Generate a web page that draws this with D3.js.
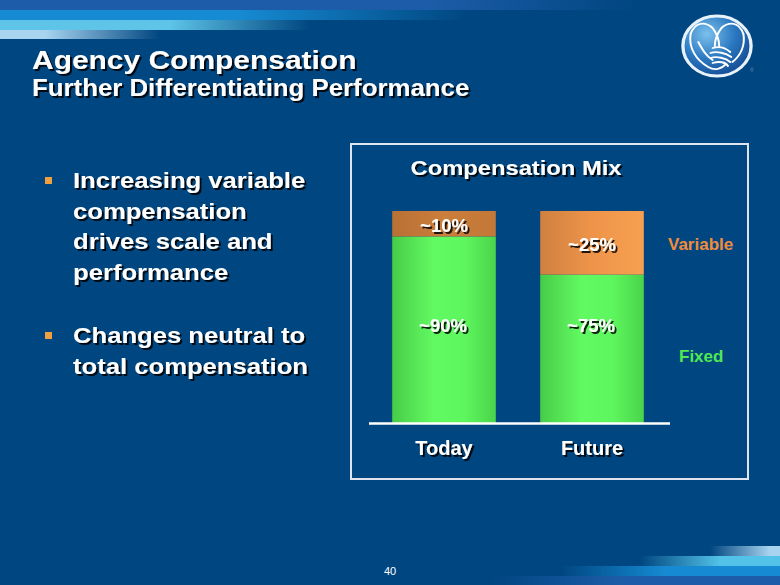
<!DOCTYPE html>
<html>
<head>
<meta charset="utf-8">
<script src="https://cdn.jsdelivr.net/npm/d3@7"></script>
<style>
  html, body { margin: 0; padding: 0; background: #004680; }
  svg { display: block; font-family: "Liberation Sans", Arial, sans-serif; }
</style>
</head>
<body>
<svg id="chart" width="780" height="585"></svg>
<script>
// ---- data ----
const categories = ["Today", "Future"];
const fixedValues = [88, 70];
const variableValues = [12, 30];
const fixedLabels = ["~90%", "~75%"];
const variableLabels = ["~10%", "~25%"];
const seriesNames = ["Variable", "Fixed"];
const chartTitle = "Compensation Mix";
const slideTitle = "Agency Compensation";
const slideSubtitle = "Further Differentiating Performance";
const bullets = [
  ["Increasing variable", "compensation", "drives scale and", "performance"],
  ["Changes neutral to", "total compensation"]
];
const pageNumber = "40";

// ---- setup ----
const svg = d3.select("#chart");
const defs = svg.append("defs");

const shadow = defs.append("filter").attr("id", "shadow")
  .attr("x", "-20%").attr("y", "-20%").attr("width", "140%").attr("height", "160%");
shadow.append("feDropShadow").attr("dx", 2).attr("dy", 2).attr("stdDeviation", 0.6)
  .attr("flood-color", "#000").attr("flood-opacity", 0.85);

// stretch text horizontally by a factor (reference slide glyphs are wider)
function stretch(sel, factor) {
  sel.each(function () {
    const w = this.getComputedTextLength();
    d3.select(this).attr("textLength", w * factor).attr("lengthAdjust", "spacingAndGlyphs");
  });
}

function hGrad(id, stops) {
  const g = defs.append("linearGradient").attr("id", id)
    .attr("x1", "0%").attr("x2", "100%").attr("y1", "0%").attr("y2", "0%");
  stops.forEach(s => g.append("stop").attr("offset", s[0]).attr("stop-color", s[1]).attr("stop-opacity", s[2] ?? 1));
}
function hGradAbs(id, x1, x2, stops) {
  const g = defs.append("linearGradient").attr("id", id).attr("gradientUnits", "userSpaceOnUse")
    .attr("x1", x1).attr("x2", x2).attr("y1", 0).attr("y2", 0);
  stops.forEach(s => g.append("stop").attr("offset", s[0]).attr("stop-color", s[1]).attr("stop-opacity", s[2] ?? 1));
}

// background
svg.append("rect").attr("width", 780).attr("height", 585).attr("fill", "#004680");

// top stripes
const topStripes = [
  { y: 0, h: 10, c: "#1c5ca8", a: 430, b: 640 },
  { y: 10, h: 10, c: "#168ad2", a: 240, b: 470 },
  { y: 20, h: 10, c: "#5ec4e8", a: 170, b: 310 },
  { y: 30, h: 9, c: "#a8d4f0", a: 45, b: 160 }
];
topStripes.forEach((s, i) => {
  hGradAbs("ts" + i, s.a, s.b, [["0%", s.c, 1], ["100%", s.c, 0]]);
  svg.append("rect").attr("x", 0).attr("y", s.y).attr("width", s.b).attr("height", s.h)
    .attr("fill", `url(#ts${i})`);
});
// bottom stripes
const botStripes = [
  { y: 546, h: 10, c: "#a8d4f0", a: 710, b: 770 },
  { y: 556, h: 10, c: "#52c2e8", a: 640, b: 720 },
  { y: 566, h: 10, c: "#168ad2", a: 560, b: 665 },
  { y: 576, h: 9, c: "#1c5ca8", a: 490, b: 620 }
];
botStripes.forEach((s, i) => {
  hGradAbs("bs" + i, s.a, s.b, [["0%", s.c, 0], ["100%", s.c, 1]]);
  svg.append("rect").attr("x", s.a).attr("y", s.y).attr("width", 780 - s.a).attr("height", s.h)
    .attr("fill", `url(#bs${i})`);
});

// logo
const logoG = defs.append("radialGradient").attr("id", "logoFill")
  .attr("cx", "35%").attr("cy", "30%").attr("r", "75%");
logoG.append("stop").attr("offset", "0%").attr("stop-color", "#7cc0ec");
logoG.append("stop").attr("offset", "55%").attr("stop-color", "#2a78c0");
logoG.append("stop").attr("offset", "100%").attr("stop-color", "#144c94");
const logo = svg.append("g").attr("transform", "translate(717,46) scale(1.1,1)");
logo.append("ellipse").attr("rx", 31).attr("ry", 30).attr("fill", "url(#logoFill)")
  .attr("stroke", "#e8f2fa").attr("stroke-width", 3);
const handPaths = [
  "M-24,-12 C-20,-24 -11,-25 -4,-18 C0,-12 2,-6 2,0",
  "M24,-12 C20,-24 11,-25 4,-18 C0,-12 -2,-6 -2,0",
  "M-24,-12 C-26,2 -19,14 -8,21 C-2,25 4,23 8,18",
  "M24,-12 C26,0 21,10 14,16",
  "M-4,2 C2,0 8,2 12,6",
  "M-6,7 C0,5 8,7 13,11",
  "M-6,12 C0,10 8,12 12,16",
  "M-4,17 C2,15 8,16 10,20",
  "M-17,-4 C-13,4 -10,10 -4,14"
];
logo.selectAll("path.hand").data(handPaths).join("path")
  .attr("d", d => d).attr("fill", "none").attr("stroke", "#ffffff")
  .attr("stroke-width", 1.8).attr("stroke-linecap", "round");
svg.append("text").attr("x", 750).attr("y", 72).attr("font-size", 5).attr("fill", "#6a8cb8").text("®");

// slide title
const t1 = svg.append("text").attr("x", 32).attr("y", 69).attr("fill", "#fff")
  .attr("font-size", 26.5).attr("font-weight", "bold").attr("filter", "url(#shadow)").text(slideTitle);
stretch(t1, 1.13);
const t2 = svg.append("text").attr("x", 32).attr("y", 96).attr("fill", "#fff")
  .attr("font-size", 24).attr("font-weight", "bold").attr("filter", "url(#shadow)").text(slideSubtitle);
stretch(t2, 1.075);

// bullets
const bulletStarts = [188, 343];
const lineStep = 30.7;
bullets.forEach((lines, bi) => {
  svg.append("rect").attr("x", 45).attr("y", bulletStarts[bi] - 11).attr("width", 7).attr("height", 7)
    .attr("fill", "#f0a040");
  const tl = svg.append("g").selectAll("text").data(lines).join("text")
    .attr("x", 73).attr("y", (d, li) => bulletStarts[bi] + li * lineStep)
    .attr("fill", "#fff").attr("font-size", 22).attr("font-weight", "bold")
    .attr("filter", "url(#shadow)").text(d => d);
  stretch(tl, 1.165);
});

// chart frame
svg.append("rect").attr("x", 351).attr("y", 144).attr("width", 397).attr("height", 335)
  .attr("fill", "none").attr("stroke", "#dfe4ee").attr("stroke-width", 2);

const ct = svg.append("text").attr("x", 516).attr("y", 175).attr("text-anchor", "middle").attr("fill", "#fff")
  .attr("font-size", 21).attr("font-weight", "bold").attr("filter", "url(#shadow)").text(chartTitle);
stretch(ct, 1.13);

// scales
const x = d3.scaleBand().domain(categories).range([370, 666]).paddingInner(0.3).paddingOuter(0.15);
const y = d3.scaleLinear().domain([0, 100]).range([423, 211]);

// gradients for bars
hGrad("greenG", [["0%", "#48cc48"], ["40%", "#62fa62"], ["70%", "#5ef65e"], ["100%", "#4ad44a"]]);
hGrad("orangeToday", [["0%", "#b87034"], ["50%", "#cc7e3c"], ["100%", "#c27838"]]);
hGrad("orangeFuture", [["0%", "#d08040"], ["50%", "#ee944a"], ["100%", "#f6a050"]]);
const orangeFills = ["url(#orangeToday)", "url(#orangeFuture)"];

const barData = categories.map((c, i) => ({ c, i, fixed: fixedValues[i], variable: variableValues[i] }));

const bars = svg.append("g");
bars.selectAll("rect.fixed").data(barData).join("rect")
  .attr("class", "fixed")
  .attr("x", d => x(d.c)).attr("width", x.bandwidth())
  .attr("y", d => y(d.fixed)).attr("height", d => y(0) - y(d.fixed))
  .attr("fill", "url(#greenG)");
bars.selectAll("rect.var").data(barData).join("rect")
  .attr("class", "var")
  .attr("x", d => x(d.c)).attr("width", x.bandwidth())
  .attr("y", d => y(d.fixed + d.variable)).attr("height", d => y(d.fixed) - y(d.fixed + d.variable))
  .attr("fill", d => orangeFills[d.i]);

// value labels
const labG = svg.append("g").attr("fill", "#fff").attr("font-size", 18.5).attr("font-weight", "bold")
  .attr("text-anchor", "middle").attr("filter", "url(#shadow)");
labG.selectAll("text.v").data(barData).join("text")
  .attr("x", d => x(d.c) + x.bandwidth() / 2)
  .attr("y", d => (y(d.fixed) + y(d.fixed + d.variable)) / 2 + 8)
  .text(d => variableLabels[d.i]);
labG.selectAll("text.f").data(barData).join("text")
  .attr("x", d => x(d.c) + x.bandwidth() / 2 - 1)
  .attr("y", y(43))
  .text(d => fixedLabels[d.i]);

// axis
const axisG = svg.append("g").attr("transform", `translate(0,${y(0)})`)
  .call(d3.axisBottom(x).tickSize(0).tickSizeOuter(0));
axisG.select(".domain").attr("stroke", "#fff").attr("stroke-width", 2.5)
  .attr("d", "M369,0.5H670");
axisG.selectAll("text").attr("y", 32).attr("dy", 0).attr("fill", "#fff")
  .attr("font-size", 20).attr("font-weight", "bold")
  .attr("font-family", "Liberation Sans, Arial, sans-serif")
  .attr("filter", "url(#shadow)");

// legend
const legendColors = ["#f08c3c", "#52e852"];
const legendPos = [{ x: 668, y: 250 }, { x: 679, y: 362 }];
svg.selectAll("text.legend").data(seriesNames).join("text")
  .attr("class", "legend")
  .attr("x", (d, i) => legendPos[i].x).attr("y", (d, i) => legendPos[i].y)
  .attr("fill", (d, i) => legendColors[i]).attr("font-size", 17).attr("font-weight", "bold")
  .text(d => d);

// page number
svg.append("text").attr("x", 390).attr("y", 575).attr("text-anchor", "middle")
  .attr("fill", "#fff").attr("font-size", 11).text(pageNumber);
</script>
</body>
</html>
